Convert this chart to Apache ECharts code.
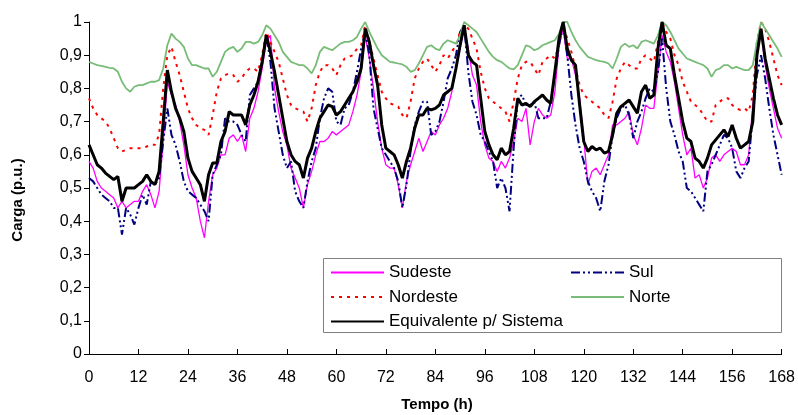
<!DOCTYPE html>
<html><head><meta charset="utf-8">
<script src="https://cdn.jsdelivr.net/npm/echarts@6/dist/echarts.min.js"></script>
<style>html,body{margin:0;padding:0;background:#fff}#c{width:798px;height:415px}</style>
</head><body><div id="c"></div>
<script>
// hourly values, hour 0..168
const sudeste = [
 0.58,0.56,0.52,0.50,0.49,0.48,0.47,0.44,0.46,0.44,0.45,0.46,
 0.46,0.49,0.51,0.48,0.44,0.49,0.64,0.82,0.78,0.75,0.70,0.63,
 0.54,0.50,0.47,0.40,0.35,0.46,0.54,0.56,0.60,0.60,0.65,0.66,
 0.64,0.66,0.61,0.71,0.74,0.79,0.86,0.94,0.96,0.80,0.73,0.67,
 0.63,0.56,0.53,0.50,0.44,0.51,0.55,0.60,0.64,0.64,0.65,0.67,
 0.66,0.67,0.68,0.69,0.73,0.78,0.85,0.96,0.89,0.80,0.70,0.62,
 0.57,0.56,0.56,0.51,0.44,0.52,0.57,0.61,0.65,0.61,0.64,0.67,
 0.66,0.69,0.71,0.74,0.79,0.86,0.92,0.98,0.92,0.84,0.81,0.70,
 0.63,0.59,0.58,0.55,0.58,0.56,0.59,0.64,0.71,0.70,0.74,0.63,
 0.70,0.74,0.72,0.71,0.72,0.79,0.93,0.98,0.89,0.89,0.84,0.77,
 0.65,0.51,0.55,0.56,0.54,0.57,0.60,0.69,0.69,0.70,0.71,0.73,
 0.66,0.63,0.68,0.75,0.74,0.74,0.85,0.96,0.91,0.88,0.82,0.74,
 0.66,0.60,0.62,0.53,0.54,0.50,0.53,0.59,0.60,0.58,0.60,0.61,
 0.62,0.61,0.57,0.57,0.60,0.75,0.90,0.97,0.87,0.80,0.74,0.68,
 0.65];
const sul = [
 0.53,0.52,0.50,0.48,0.47,0.46,0.44,0.44,0.36,0.44,0.42,0.39,
 0.44,0.48,0.45,0.52,0.51,0.53,0.64,0.74,0.66,0.63,0.58,0.52,
 0.49,0.48,0.47,0.45,0.43,0.40,0.54,0.57,0.60,0.71,0.70,0.70,
 0.69,0.66,0.64,0.78,0.80,0.82,0.88,0.96,0.88,0.74,0.67,0.60,
 0.56,0.58,0.49,0.46,0.44,0.52,0.58,0.62,0.71,0.77,0.80,0.79,
 0.70,0.69,0.74,0.75,0.79,0.85,0.92,0.97,0.90,0.74,0.68,0.62,
 0.60,0.58,0.56,0.52,0.44,0.51,0.61,0.69,0.73,0.76,0.76,0.66,
 0.67,0.70,0.76,0.83,0.86,0.90,0.97,0.99,0.85,0.76,0.72,0.66,
 0.64,0.61,0.58,0.50,0.53,0.50,0.43,0.62,0.77,0.78,0.75,0.75,
 0.76,0.71,0.71,0.71,0.76,0.84,0.93,0.99,0.90,0.78,0.69,0.62,
 0.58,0.52,0.49,0.47,0.43,0.52,0.57,0.66,0.71,0.74,0.75,0.72,
 0.65,0.70,0.73,0.77,0.80,0.79,0.85,0.95,0.80,0.70,0.66,0.61,
 0.58,0.50,0.49,0.47,0.45,0.43,0.55,0.57,0.60,0.63,0.66,0.65,
 0.62,0.55,0.53,0.56,0.58,0.72,0.84,0.90,0.83,0.74,0.66,0.60,
 0.54];
const nordeste = [
 0.77,0.74,0.72,0.71,0.70,0.68,0.65,0.62,0.61,0.615,0.62,0.62,
 0.62,0.62,0.625,0.63,0.63,0.66,0.80,0.90,0.925,0.88,0.84,0.79,
 0.74,0.71,0.69,0.68,0.675,0.66,0.72,0.79,0.83,0.84,0.845,0.84,
 0.82,0.83,0.85,0.86,0.86,0.85,0.90,0.97,0.94,0.91,0.88,0.83,
 0.78,0.75,0.74,0.735,0.73,0.70,0.74,0.81,0.85,0.87,0.87,0.86,
 0.84,0.87,0.89,0.895,0.90,0.92,0.93,0.99,0.94,0.89,0.84,0.79,
 0.77,0.755,0.75,0.745,0.72,0.71,0.76,0.83,0.86,0.88,0.89,0.87,
 0.85,0.87,0.90,0.89,0.91,0.93,0.97,0.99,0.98,0.95,0.92,0.85,
 0.80,0.77,0.76,0.75,0.74,0.73,0.70,0.76,0.83,0.87,0.88,0.88,
 0.86,0.84,0.88,0.89,0.90,0.89,0.93,0.99,0.95,0.91,0.86,0.81,
 0.78,0.77,0.76,0.75,0.74,0.72,0.71,0.76,0.83,0.86,0.88,0.87,
 0.86,0.86,0.89,0.90,0.89,0.88,0.94,1.00,0.97,0.95,0.90,0.87,
 0.82,0.79,0.76,0.75,0.74,0.72,0.70,0.70,0.75,0.76,0.77,0.77,
 0.75,0.74,0.735,0.74,0.73,0.78,0.94,1.00,0.98,0.94,0.89,0.84,
 0.81];
const norte = [
 0.88,0.875,0.87,0.868,0.865,0.862,0.86,0.85,0.82,0.80,0.79,0.805,
 0.81,0.81,0.815,0.82,0.82,0.825,0.86,0.93,0.965,0.95,0.94,0.925,
 0.89,0.87,0.87,0.865,0.86,0.86,0.835,0.85,0.88,0.91,0.92,0.925,
 0.91,0.92,0.94,0.94,0.935,0.94,0.96,0.99,0.98,0.96,0.94,0.91,
 0.895,0.88,0.875,0.87,0.87,0.86,0.845,0.87,0.91,0.925,0.92,0.915,
 0.925,0.935,0.94,0.94,0.945,0.955,0.98,1.00,0.97,0.945,0.92,0.90,
 0.89,0.88,0.878,0.875,0.872,0.865,0.85,0.855,0.875,0.90,0.925,0.93,
 0.92,0.915,0.935,0.945,0.94,0.935,0.96,1.00,0.99,0.98,0.97,0.95,
 0.93,0.91,0.895,0.885,0.88,0.87,0.86,0.857,0.87,0.90,0.93,0.925,
 0.915,0.92,0.93,0.935,0.94,0.945,0.965,1.00,1.00,0.97,0.945,0.925,
 0.91,0.895,0.89,0.885,0.882,0.88,0.875,0.86,0.89,0.925,0.935,0.925,
 0.93,0.92,0.94,0.945,0.94,0.935,0.96,1.00,0.99,0.97,0.945,0.92,
 0.905,0.89,0.885,0.88,0.875,0.87,0.86,0.835,0.855,0.86,0.87,0.87,
 0.86,0.865,0.86,0.855,0.855,0.87,0.94,1.00,0.98,0.96,0.94,0.92,
 0.895];
const equivalente = [
 0.63,0.60,0.57,0.56,0.545,0.535,0.525,0.535,0.46,0.50,0.50,0.50,
 0.51,0.52,0.54,0.52,0.51,0.55,0.70,0.855,0.79,0.74,0.71,0.67,
 0.59,0.55,0.53,0.51,0.46,0.54,0.575,0.575,0.64,0.67,0.73,0.72,
 0.72,0.72,0.69,0.75,0.78,0.82,0.88,0.96,0.91,0.85,0.78,0.71,
 0.64,0.60,0.58,0.57,0.53,0.59,0.62,0.67,0.71,0.73,0.75,0.745,
 0.72,0.73,0.75,0.77,0.79,0.82,0.86,0.98,0.94,0.87,0.81,0.69,
 0.62,0.61,0.60,0.57,0.53,0.58,0.62,0.68,0.72,0.72,0.74,0.735,
 0.74,0.75,0.78,0.79,0.80,0.86,0.93,0.99,0.90,0.88,0.87,0.77,
 0.67,0.63,0.60,0.585,0.62,0.60,0.61,0.68,0.77,0.75,0.755,0.745,
 0.76,0.77,0.78,0.765,0.755,0.85,0.95,1.00,0.92,0.885,0.87,0.75,
 0.64,0.61,0.625,0.615,0.62,0.605,0.61,0.66,0.725,0.745,0.755,0.765,
 0.745,0.725,0.79,0.81,0.77,0.78,0.92,1.00,0.93,0.92,0.84,0.77,
 0.70,0.65,0.64,0.59,0.58,0.56,0.59,0.63,0.645,0.66,0.675,0.655,
 0.69,0.65,0.62,0.63,0.64,0.70,0.90,0.98,0.89,0.83,0.77,0.72,
 0.69];
const seriesNames = ['Sudeste','Sul','Nordeste','Norte','Equivalente p/ Sistema'];
const yTickLabels = ['0','0,1','0,2','0,3','0,4','0,5','0,6','0,7','0,8','0,9','1'];
const xTickLabels = ['0','12','24','36','48','60','72','84','96','108','120','132','144','156','168'];

const toPairs = arr => arr.map((v, i) => [i, v]);
const FONT = 'Liberation Sans';

const legendBase = {
  orient: 'vertical', top: 264, padding: 0, itemWidth: 53, itemHeight: 14, itemGap: 7.5,
  itemTextGap: 4, z: 20, itemStyle: {opacity: 0},
  textStyle: {fontSize: 17, color: '#000', fontFamily: FONT, lineHeight: 14}
};

const chart = echarts.init(document.getElementById('c'), null, {renderer: 'canvas'});
chart.setOption({
  animation: false,
  backgroundColor: '#fff',
  textStyle: {fontFamily: FONT},
  grid: {left: 89, right: 16, top: 22, bottom: 61, containLabel: false},
  xAxis: {
    type: 'value', min: 0, max: 168, interval: 12,
    axisLine: {lineStyle: {color: '#000', width: 1}},
    axisTick: {show: true, inside: true, length: 5, lineStyle: {color: '#000'}},
    splitLine: {show: false},
    axisLabel: {fontSize: 16, color: '#000', fontFamily: FONT, margin: 16,
      formatter: v => xTickLabels[Math.round(v / 12)]}
  },
  yAxis: {
    type: 'value', min: 0, max: 1, interval: 0.1,
    axisLine: {show: true, lineStyle: {color: '#000', width: 1}},
    axisTick: {show: true, inside: false, length: 5, lineStyle: {color: '#000'}},
    splitLine: {show: false},
    axisLabel: {fontSize: 16, color: '#000', fontFamily: FONT, margin: 7,
      formatter: v => yTickLabels[Math.round(v * 10)]}
  },
  legend: [
    Object.assign({}, legendBase, {left: 330, data: [seriesNames[0], seriesNames[2], seriesNames[4]]}),
    Object.assign({}, legendBase, {left: 570, data: [seriesNames[1], seriesNames[3]]})
  ],
  graphic: [
    {type: 'rect', z: 10, shape: {x: 323.5, y: 258.5, width: 458, height: 74},
     style: {fill: '#fff', stroke: '#808080', lineWidth: 1}},
    {type: 'text', x: 18, y: 200, rotation: Math.PI / 2, z: 10,
     style: {text: 'Carga (p.u.)', font: 'bold 15px "Liberation Sans"', fill: '#000', align: 'center', verticalAlign: 'middle'}},
    {type: 'text', x: 437, y: 405, z: 10,
     style: {text: 'Tempo (h)', font: 'bold 15px "Liberation Sans"', fill: '#000', align: 'center', verticalAlign: 'middle'}}
  ],
  series: [
    {name: seriesNames[0], type: 'line', data: toPairs(sudeste), symbol: 'none',
     lineStyle: {color: '#FF00FF', width: 1.3}, itemStyle: {color: '#FF00FF'}},
    {name: seriesNames[1], type: 'line', data: toPairs(sul), symbol: 'none',
     lineStyle: {color: '#000080', width: 2, type: [9, 3, 2, 3, 2, 3]}, itemStyle: {color: '#000080'}},
    {name: seriesNames[2], type: 'line', data: toPairs(nordeste), symbol: 'none',
     lineStyle: {color: '#FF0000', width: 2, type: [3, 5]}, itemStyle: {color: '#FF0000'}},
    {name: seriesNames[3], type: 'line', data: toPairs(norte), symbol: 'none',
     lineStyle: {color: '#78BC78', width: 1.8}, itemStyle: {color: '#78BC78'}},
    {name: seriesNames[4], type: 'line', data: toPairs(equivalente), symbol: 'none',
     lineStyle: {color: '#000000', width: 3}, itemStyle: {color: '#000000'}}
  ]
});
</script></body></html>
